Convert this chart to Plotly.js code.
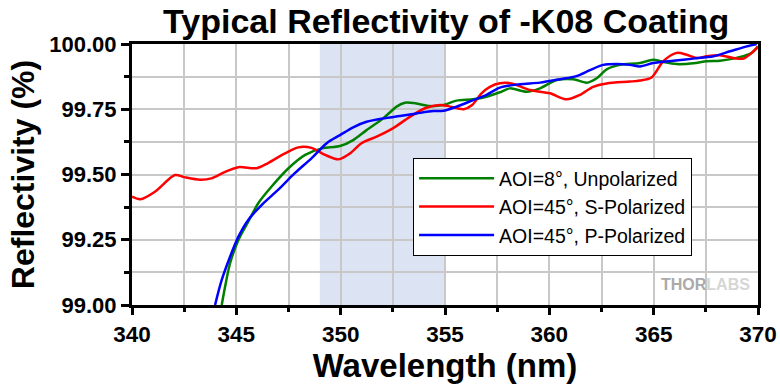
<!DOCTYPE html>
<html>
<head>
<meta charset="utf-8">
<script src="https://cdn.plot.ly/plotly-3.0.1.min.js"></script>
<style>html,body{margin:0;padding:0;background:#fff;}#chart{width:780px;height:384px;}</style>
</head>
<body>
<div id="chart"></div>
<script>
// AOI=8°, Unpolarized
const unpolWl = [344.3,344.46,344.7,345.1,345.57,346.05,346.68,347.5,348.3,349.1,349.97,350.6,351.24,352.04,352.68,353.08,353.64,354.28,354.92,355.55,356.35,356.99,357.63,358.1,358.9,359.55,360.35,361.15,361.79,362.27,362.75,363.38,364.34,364.98,365.46,366.1,366.9,367.54,368.18,368.82,369.3,369.7,370.0];
const unpolR  = [99.0,99.07,99.16,99.249,99.319,99.39,99.453,99.524,99.575,99.60,99.609,99.632,99.67,99.715,99.76,99.775,99.772,99.762,99.766,99.783,99.788,99.798,99.815,99.83,99.817,99.83,99.862,99.865,99.852,99.869,99.903,99.92,99.927,99.94,99.931,99.923,99.926,99.934,99.936,99.944,99.953,99.966,99.99];
// AOI=45°, S-Polarized
const sPolWl = [340.0,340.4,341.1,342.06,342.5,343.26,343.8,344.46,345.1,345.97,346.5,347.33,347.97,348.6,349.25,349.9,350.45,351.0,351.72,352.5,353.3,354.04,354.76,355.16,355.9,356.3,356.75,357.15,357.63,358.2,359.07,360.03,360.83,361.47,362.1,362.75,363.86,364.34,364.9,365.46,366.1,366.58,367.06,367.54,368.18,368.82,369.3,369.7,370.0];
const sPolR  = [99.415,99.405,99.434,99.498,99.49,99.48,99.485,99.51,99.528,99.524,99.543,99.581,99.604,99.602,99.575,99.558,99.581,99.62,99.645,99.677,99.72,99.754,99.766,99.762,99.75,99.766,99.811,99.836,99.85,99.849,99.824,99.811,99.788,99.805,99.836,99.849,99.856,99.86,99.872,99.934,99.966,99.959,99.946,99.953,99.957,99.946,99.944,99.966,99.99];
// AOI=45°, P-Polarized
const pPolWl = [343.98,344.3,344.7,345.1,345.57,346.21,347.0,347.8,348.6,349.33,349.97,350.6,351.24,352.04,352.84,353.64,354.44,354.92,355.55,356.35,356.99,357.63,358.59,359.55,360.51,361.3,361.95,362.58,363.22,363.86,364.34,364.98,365.94,366.9,367.86,368.66,369.46,369.94];
const pPolR  = [99.0,99.096,99.185,99.262,99.326,99.383,99.441,99.505,99.562,99.62,99.651,99.681,99.702,99.715,99.724,99.734,99.743,99.744,99.76,99.785,99.805,99.833,99.846,99.852,99.865,99.877,99.90,99.92,99.923,99.92,99.914,99.927,99.936,99.944,99.953,99.972,99.991,100.0];

const seriesNames = ['AOI=8°, Unpolarized','AOI=45°, S-Polarized','AOI=45°, P-Polarized'];
const seriesColors = ['#008000','#ff0000','#0000ff'];
const shadedBand = [349, 355];

const FONT = 'Arial, "Liberation Sans", sans-serif';

const traces = [
  {x: unpolWl, y: unpolR, name: seriesNames[0]},
  {x: sPolWl, y: sPolR, name: seriesNames[1]},
  {x: pPolWl, y: pPolR, name: seriesNames[2]}
].map((t, i) => Object.assign(t, {
  type: 'scatter', mode: 'lines',
  line: {color: seriesColors[i], width: 2.5, shape: 'spline', smoothing: 0.8},
  hoverinfo: 'skip'
}));

const layout = {
  width: 780, height: 384,
  margin: {l: 132, r: 22, t: 44, b: 79},
  paper_bgcolor: '#ffffff', plot_bgcolor: 'rgba(0,0,0,0)',
  font: {family: FONT, color: '#000'},
  title: {text: '<b>Typical Reflectivity of -K08 Coating</b>', font: {size: 34, family: FONT, color: '#000'},
          x: 0.572, xanchor: 'center', y: 0.945, yanchor: 'middle'},
  showlegend: true,
  legend: {x: 0.449, y: 0.563, xanchor: 'left', yanchor: 'top', bgcolor: '#ffffff',
           bordercolor: '#000', borderwidth: 1, font: {size: 19.5, family: FONT, color: '#000'},
           itemwidth: 75, tracegroupgap: 0},
  xaxis: {
    range: [340, 370], dtick: 5, tick0: 340,
    showline: true, linecolor: '#000', linewidth: 3, mirror: true,
    ticks: 'outside', ticklen: 7, tickwidth: 3, tickcolor: '#000',
    showgrid: true, gridcolor: '#c8c8c8', gridwidth: 2,
    minor: {dtick: 2.5, showgrid: true, gridcolor: '#c8c8c8', gridwidth: 2, ticks: 'outside', ticklen: 4, tickwidth: 3, tickcolor: '#000'},
    zeroline: false,
    tickfont: {size: 22.5, family: FONT, weight: 'bold', color: '#000'},
    title: {text: '<b>Wavelength (nm)</b>', font: {size: 33, family: FONT, color: '#000'}, standoff: 6}
  },
  yaxis: {
    range: [99, 100], dtick: 0.25, tick0: 99, tickformat: '.2f',
    showline: true, linecolor: '#000', linewidth: 3, mirror: true,
    ticks: 'outside', ticklen: 8, tickwidth: 3, tickcolor: '#000',
    showgrid: true, gridcolor: '#c8c8c8', gridwidth: 2,
    minor: {dtick: 0.125, showgrid: true, gridcolor: '#c8c8c8', gridwidth: 2, ticks: 'outside', ticklen: 5, tickwidth: 3, tickcolor: '#000'},
    zeroline: false,
    tickfont: {size: 22, family: FONT, weight: 'bold', color: '#000'},
    title: {text: '<b>Reflectivity (%)</b>', font: {size: 32, family: FONT, color: '#000'}, standoff: 6}
  },
  shapes: [{
    type: 'rect', xref: 'x', yref: 'paper', x0: shadedBand[0], x1: shadedBand[1], y0: 0, y1: 1,
    fillcolor: '#dce4f4', line: {width: 0}, layer: 'below'
  }],
  annotations: [{
    xref: 'paper', yref: 'paper', x: 0.99, y: 0.08, xanchor: 'right', yanchor: 'middle',
    text: '<b>THOR</b><span style="color:#d6d6d6"><b>LABS</b></span>', showarrow: false,
    font: {size: 16, family: FONT, color: '#aaaaaa'}
  }]
};

Plotly.newPlot('chart', traces, layout, {staticPlot: true, displayModeBar: false});
</script>
</body>
</html>
